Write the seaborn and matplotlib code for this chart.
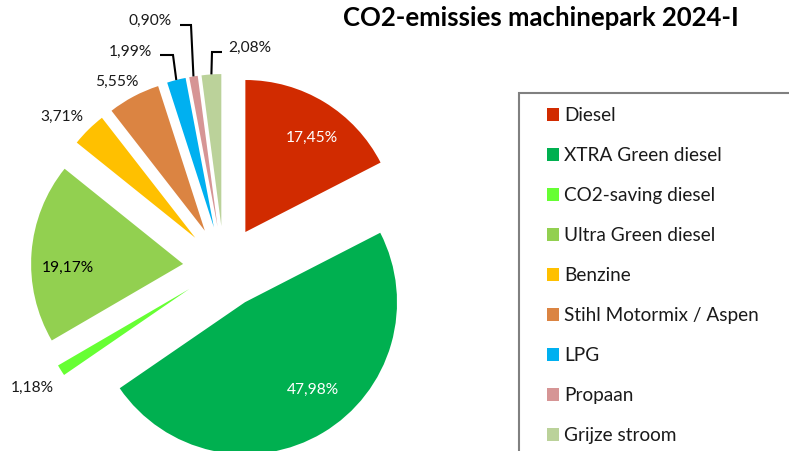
import matplotlib
matplotlib.use("Agg")
import matplotlib.pyplot as plt
import seaborn as sns
import numpy as np
from matplotlib.patches import Rectangle

sns.set_theme(style="white")
plt.rcParams['font.family'] = ['Lato', 'DejaVu Sans']

# ---- data ----
categories = ["Diesel", "XTRA Green diesel", "CO2-saving diesel", "Ultra Green diesel",
              "Benzine", "Stihl Motormix / Aspen", "LPG", "Propaan", "Grijze stroom"]
shares = [17.45, 47.98, 1.18, 19.17, 3.71, 5.55, 1.99, 0.90, 2.08]
pct_labels = ["17,45%", "47,98%", "1,18%", "19,17%", "3,71%", "5,55%", "1,99%", "0,90%", "2,08%"]
colors = ["#D12B00", "#00B050", "#66FF33", "#92D050", "#FFC000",
          "#DB8442", "#00B0F0", "#D69595", "#BBD29A"]
title = "CO2-emissies machinepark 2024-I"

W, H = 789, 451
fig = plt.figure(figsize=(W / 100, H / 100), dpi=100)
ax = fig.add_axes([0, 0, 1, 1])

cx, cy = 224, H - 267
R = 152
expl = 41  # explode offset in data (pixel) units

wedges, _ = ax.pie(shares, colors=colors, startangle=90, counterclock=False,
                   center=(cx, cy), radius=R, explode=[expl] * len(shares),
                   wedgeprops=dict(linewidth=0), frame=True)
ax.set_xlim(0, W)
ax.set_ylim(0, H)
ax.set_aspect('equal')
ax.axis('off')

def wedge_point(w, frac, ang_shift=0.0):
    mid = np.deg2rad((w.theta1 + w.theta2) / 2 + ang_shift)
    x0, y0 = w.center
    return x0 + frac * w.r * np.cos(mid), y0 + frac * w.r * np.sin(mid)

# inside labels (white on dark, black on light)
inside = {0: ("white", 0.76, -4), 1: ("white", 0.73, 7), 3: ("black", 0.76, 6)}
for i, (col, frac, sh) in inside.items():
    x, y = wedge_point(wedges[i], frac, sh)
    ax.text(x, y, pct_labels[i], color=col, fontsize=11.2, ha='center', va='center')

# outside labels: text position (image px), optional leader elbow
outside = {
    2: ((32, 388), None),
    4: ((62, 117), None),
    5: ((117, 82), None),
    6: ((130, 52), ((160, 55), (173, 55))),
    7: ((150, 21), ((180, 25), (191, 25))),
    8: ((250, 48), ((222, 52), (212, 52))),
}
for i, ((tx, ty), leader) in outside.items():
    ax.text(tx, H - ty, pct_labels[i], color="#1a1a1a", fontsize=11.2,
            ha='center', va='center')
    if leader is not None:
        ex, ey = wedge_point(wedges[i], 1.0)
        (ax1, ay1), (ax2, ay2) = leader
        ax.plot([ax1, ax2, ex], [H - ay1, H - ay2, ey], color="black", lw=1.5,
                solid_capstyle='butt', solid_joinstyle='miter')

# title
ax.text(541, H - 18, title, fontsize=18.5, fontweight='bold', ha='center',
        va='center', color='black')

# legend frame (extends past figure edge)
ax.add_patch(Rectangle((519, -30), 400, H - 93 + 30, fill=False,
                       edgecolor="#808080", lw=1.5))

leg = ax.legend(wedges, categories, loc='upper left',
                bbox_to_anchor=(547 / W, 1 - 107 / H), bbox_transform=fig.transFigure,
                frameon=False, fontsize=13.7, handlelength=0.65, handleheight=0.65,
                handletextpad=0.25, labelspacing=1.21, borderpad=0, borderaxespad=0)
for t in leg.get_texts():
    t.set_color("#1a1a1a")

fig.savefig("out.png", dpi=100)
